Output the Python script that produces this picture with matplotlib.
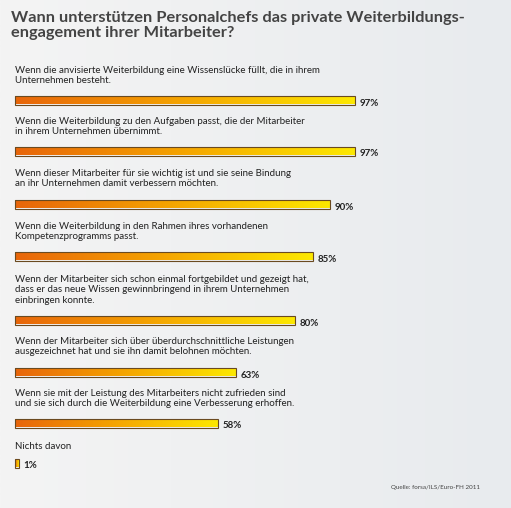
import numpy as np
import matplotlib.pyplot as plt

title = "Wann unterstützen Personalchefs das private Weiterbildungs-\nengagement ihrer Mitarbeiter?"
labels = [
    "Wenn die anvisierte Weiterbildung eine Wissenslücke füllt, die in ihrem\nUnternehmen besteht.",
    "Wenn die Weiterbildung zu den Aufgaben passt, die der Mitarbeiter\nin ihrem Unternehmen übernimmt.",
    "Wenn dieser Mitarbeiter für sie wichtig ist und sie seine Bindung\nan ihr Unternehmen damit verbessern möchten.",
    "Wenn die Weiterbildung in den Rahmen ihres vorhandenen\nKompetenzprogramms passt.",
    "Wenn der Mitarbeiter sich schon einmal fortgebildet und gezeigt hat,\ndass er das neue Wissen gewinnbringend in ihrem Unternehmen\neinbringen konnte.",
    "Wenn der Mitarbeiter sich über überdurchschnittliche Leistungen\nausgezeichnet hat und sie ihn damit belohnen möchten.",
    "Wenn sie mit der Leistung des Mitarbeiters nicht zufrieden sind\nund sie sich durch die Weiterbildung eine Verbesserung erhoffen.",
    "Nichts davon",
]
values = [97, 97, 90, 85, 80, 63, 58, 1]
bar_y = [100, 151, 204, 256, 320, 372, 423, 463]   # pixel rows
label_top = [66, 117, 169, 222, 275, 337, 389, 442]
source = "Quelle: forsa/ILS/Euro-FH 2011"

W, H = 511, 508
fig = plt.figure(figsize=(W / 100, H / 100), dpi=100)
ax = fig.add_axes([0, 0, 1, 1])
px = 3.5  # pixels per percent
x0 = 15
ax.set_xlim(-x0 / px, (W - x0) / px)
ax.set_ylim(H, 0)
ax.axis("off")

# background
bg = np.linspace(0, 1, 256).reshape(1, -1)
ax.imshow(bg, extent=(-x0 / px, (W - x0) / px, H, 0), aspect="auto",
          cmap=plt.matplotlib.colors.LinearSegmentedColormap.from_list("bg", ["#f4f4f4", "#e8ebee"]),
          zorder=0)

grad = plt.matplotlib.colors.LinearSegmentedColormap.from_list("g", ["#e8650a", "#f5a500", "#fde800"])
bars = ax.barh(bar_y, values, height=9, left=0, color="none", edgecolor="#6a4a20", linewidth=0.8, zorder=3)
for b, v in zip(bars, values):
    im = ax.imshow(np.linspace(0, 1, 256).reshape(1, -1), extent=(0, v, b.get_y() + b.get_height(), b.get_y()),
                   aspect="auto", cmap=grad, zorder=2)
    im.set_clip_path(b)

for lab, ly, by, v in zip(labels, label_top, bar_y, values):
    ax.text(0, ly, lab, fontsize=7, color="#222222", va="top", ha="left", linespacing=1.2, family="Lato")
    ax.text(v + 5 / px, by + 3, f"{v}%", fontsize=7, fontweight="bold", color="#222222", va="center",
            ha="left", family="Lato")

ax.text(-x0 / px + 11 / px, 11, title, fontsize=11.8, fontweight="bold", color="#444444", va="top",
        ha="left", linespacing=1.1, family="Lato")
ax.text(480 / px - x0 / px, 488, source, fontsize=4.5, color="#444444", ha="right", va="center", family="Lato")

fig.savefig("out.png", dpi=100)
